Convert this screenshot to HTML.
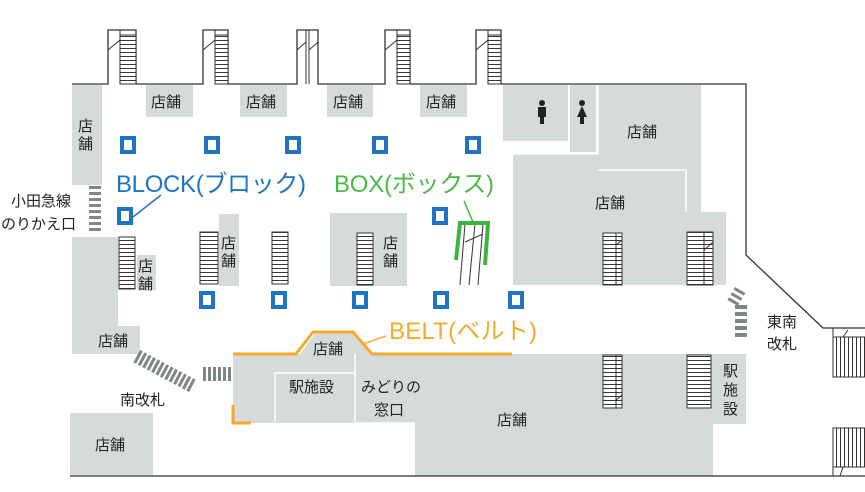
<!DOCTYPE html>
<html><head><meta charset="utf-8"><style>
body{margin:0;background:#fff}
svg{display:block}
text{font-family:"Liberation Sans","Noto Sans CJK JP",sans-serif;fill:#222}
.s{font-size:15px}
</style></head><body>
<svg width="865" height="492" viewBox="0 0 865 492" xmlns="http://www.w3.org/2000/svg">
<defs>
<pattern id="hs" width="10" height="4" patternUnits="userSpaceOnUse"><rect width="10" height="4" fill="#fff"/><line x1="0" y1="0.5" x2="10" y2="0.5" stroke="#333" stroke-width="1"/></pattern>
<pattern id="vs" width="4" height="10" patternUnits="userSpaceOnUse"><rect width="4" height="10" fill="#fff"/><line x1="0.5" y1="0" x2="0.5" y2="10" stroke="#333" stroke-width="1"/></pattern>
</defs>
<g fill="#d5dbdb">
<rect x="72" y="85" width="30" height="100"/>
<rect x="146" y="85" width="47" height="32"/>
<rect x="240" y="85" width="47" height="32"/>
<rect x="327" y="85" width="46" height="32"/>
<rect x="420" y="85" width="47" height="32"/>
<rect x="503" y="85" width="65" height="56"/>
<rect x="570" y="85" width="26" height="67"/>
<polygon points="598,85 701,85 701,212 726,212 726,285 513,285 513,154 598,154"/>
<rect x="72" y="237" width="46" height="117"/>
<rect x="92" y="326" width="48" height="28"/>
<rect x="137" y="255" width="19" height="35"/>
<rect x="219" y="214" width="20" height="72"/>
<rect x="330" y="213" width="77" height="73"/>
<polygon points="233,354 300,354 316,332 355,332 372,354 746,354 746,424 713,424 713,476 415,476 415,423 233,423"/>
<rect x="70" y="413" width="83" height="62"/>
</g>
<g stroke="#fff" stroke-width="1.5" fill="none">
<path d="M598,85 V154 M598,170 H686 V212 M513,154 H598"/>
<path d="M275,423 V373 H355 M355,354 V423 M415,423 H355"/>
</g>
<g stroke="#333" stroke-width="1.3" fill="none">
<path d="M72,84 H108 V30 H136 V84 H203 V30 H228 V84 H297 V30 H318 V84 H385 V30 H410 V84 H476 V30 H501 V84 H746 V255 L823,328 H865"/>
<line x1="70" y1="476" x2="865" y2="476"/>
</g>
<g stroke="#333" stroke-width="1">
<rect x="120" y="35" width="16" height="49" fill="url(#hs)"/><line x1="108" y1="50" x2="120" y2="40"/><line x1="120" y1="30" x2="120" y2="84"/>
<rect x="215" y="35" width="13" height="49" fill="url(#hs)"/><line x1="203" y1="50" x2="215" y2="40"/><line x1="215" y1="30" x2="215" y2="84"/>
<line x1="306" y1="30" x2="306" y2="84"/><line x1="309" y1="30" x2="309" y2="84"/><line x1="297" y1="50" x2="306" y2="42"/><line x1="309" y1="50" x2="318" y2="42"/>
<rect x="397" y="35" width="13" height="49" fill="url(#hs)"/><line x1="385" y1="50" x2="397" y2="40"/><line x1="397" y1="30" x2="397" y2="84"/>
<rect x="488" y="35" width="13" height="49" fill="url(#hs)"/><line x1="476" y1="50" x2="488" y2="40"/><line x1="488" y1="30" x2="488" y2="84"/>
<rect x="119" y="237" width="16" height="52" fill="url(#hs)"/>
<rect x="200" y="232" width="18" height="52" fill="url(#hs)"/>
<rect x="272" y="232" width="16" height="52" fill="url(#hs)"/>
<rect x="357" y="233" width="16" height="52" fill="url(#hs)"/>
<rect x="603" y="233" width="19" height="52" fill="url(#hs)"/><line x1="616" y1="233" x2="616" y2="285"/><line x1="616" y1="245" x2="622" y2="240"/>
<rect x="687" y="232" width="26" height="53" fill="url(#hs)"/><line x1="704" y1="232" x2="704" y2="285"/><line x1="704" y1="250" x2="713" y2="242"/>
<rect x="603" y="355" width="19" height="53" fill="url(#hs)"/><line x1="616" y1="355" x2="616" y2="408"/><line x1="616" y1="400" x2="622" y2="395"/>
<rect x="687" y="355" width="24" height="53" fill="url(#hs)"/>
<rect x="833" y="337" width="32" height="40" fill="url(#vs)"/><line x1="833" y1="328" x2="833" y2="337"/><line x1="843" y1="337" x2="848" y2="330"/>
<rect x="833" y="428" width="32" height="39" fill="url(#vs)"/><line x1="833" y1="467" x2="833" y2="476"/><line x1="843" y1="467" x2="840" y2="476"/>
<line x1="465" y1="224" x2="460" y2="285"/><line x1="475" y1="224" x2="469" y2="285"/><line x1="483" y1="224" x2="478" y2="285"/>
<line x1="465" y1="242" x2="474" y2="238"/><line x1="474" y1="238" x2="483" y2="234"/>
</g>
<g fill="#7d8785">
<rect x="89" y="186" width="12" height="3"/><rect x="89" y="192" width="12" height="3"/><rect x="89" y="198" width="12" height="3"/><rect x="89" y="204" width="12" height="3"/><rect x="89" y="210" width="12" height="3"/><rect x="89" y="216" width="12" height="3"/><rect x="89" y="222" width="12" height="3"/><rect x="89" y="228" width="12" height="3"/>
<rect x="735" y="305" width="12" height="4"/><rect x="735" y="312" width="12" height="4"/><rect x="735" y="319" width="12" height="4"/><rect x="735" y="326" width="12" height="4"/><rect x="735" y="333" width="12" height="4"/>
<g transform="translate(735,287) rotate(30)"><rect x="0" y="0" width="12" height="3"/><rect x="0" y="6" width="12" height="3"/><rect x="0" y="12" width="12" height="3"/></g>
<rect x="203" y="367" width="3" height="14"/><rect x="208" y="367" width="3" height="14"/><rect x="213" y="367" width="3" height="14"/><rect x="218" y="367" width="3" height="14"/><rect x="223" y="367" width="3" height="14"/><rect x="228" y="367" width="3" height="14"/>
</g>
<g transform="translate(140,350) rotate(28)" fill="#7d8785">
<rect x="0" y="0" width="3" height="14"/><rect x="5" y="0" width="3" height="14"/><rect x="10" y="0" width="3" height="14"/><rect x="15" y="0" width="3" height="14"/><rect x="20" y="0" width="3" height="14"/><rect x="25" y="0" width="3" height="14"/><rect x="30" y="0" width="3" height="14"/><rect x="35" y="0" width="3" height="14"/><rect x="40" y="0" width="3" height="14"/><rect x="45" y="0" width="3" height="14"/><rect x="50" y="0" width="3" height="14"/><rect x="55" y="0" width="3" height="14"/><rect x="60" y="0" width="3" height="14"/>
</g>
<g fill="#222">
<circle cx="542" cy="103" r="3"/><rect x="538" y="107" width="8" height="10"/><rect x="540" y="116" width="4" height="8"/>
<circle cx="582" cy="103" r="3"/><polygon points="582,106 577,117 587,117"/><rect x="580" y="116" width="4" height="8"/>
</g>
<g fill="#fff" stroke="#1e73c2" stroke-width="4">
<rect x="122" y="138" width="12" height="14"/><rect x="206" y="138" width="12" height="14"/><rect x="287" y="138" width="12" height="14"/><rect x="374" y="138" width="12" height="14"/><rect x="467" y="138" width="12" height="14"/>
<rect x="119" y="209" width="12" height="14"/><rect x="434" y="209" width="12" height="14"/>
<rect x="201" y="293" width="12" height="14"/><rect x="273" y="293" width="12" height="14"/><rect x="354" y="293" width="12" height="14"/><rect x="435" y="293" width="12" height="14"/><rect x="510" y="293" width="12" height="14"/>
</g>
<line x1="133" y1="217" x2="161" y2="195" stroke="#1e73c2" stroke-width="1.5"/>
<line x1="464" y1="201" x2="473" y2="222" stroke="#3db43d" stroke-width="1.5"/>
<path d="M456,260 L460,223 H488 L485,265" fill="none" stroke="#3db43d" stroke-width="4"/>
<path d="M233,354 H296 L313,332 H353 L372,354 H512" fill="none" stroke="#f7a92a" stroke-width="3"/>
<line x1="363" y1="344" x2="386" y2="336" stroke="#f7a92a" stroke-width="1.5"/>
<path d="M233,405 V423 H251" fill="none" stroke="#f7a92a" stroke-width="3"/>
<text x="116" y="192" font-size="24" style="fill:#1e73c2" textLength="190">BLOCK(ブロック)</text>
<text x="334" y="192" font-size="24" style="fill:#4cb847" textLength="160">BOX(ボックス)</text>
<text x="389" y="339" font-size="24" style="fill:#f7a92a" textLength="148">BELT(ベルト)</text>
<g class="s">
<text x="151" y="107">店舗</text><text x="246" y="107">店舗</text><text x="333" y="107">店舗</text><text x="426" y="107">店舗</text>
<text x="78" y="131">店</text><text x="78" y="149">舗</text>
<text x="627" y="137">店舗</text><text x="595" y="208">店舗</text>
<text x="11" y="206">小田急線</text><text x="1" y="229">のりかえ口</text>
<text x="138" y="271">店</text><text x="138" y="289">舗</text>
<text x="221" y="248">店</text><text x="221" y="266">舗</text>
<text x="383" y="248">店</text><text x="383" y="266">舗</text>
<text x="98" y="346">店舗</text><text x="313" y="354">店舗</text>
<text x="289" y="392">駅施設</text><text x="361" y="392">みどりの</text><text x="374" y="415">窓口</text>
<text x="497" y="425">店舗</text><text x="120" y="405">南改札</text><text x="95" y="450">店舗</text>
<text x="767" y="327">東南</text><text x="767" y="349">改札</text>
<text x="723" y="376">駅</text><text x="723" y="395">施</text><text x="723" y="414">設</text>
</g>
</svg>
</body></html>
